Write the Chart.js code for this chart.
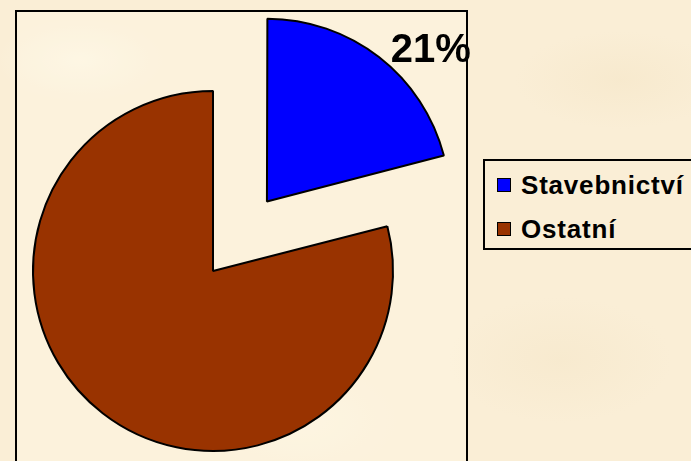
<!DOCTYPE html>
<html>
<head>
<meta charset="utf-8">
<script src="https://cdn.jsdelivr.net/npm/chart.js@4/dist/chart.umd.min.js"></script>
<style>
html,body{margin:0;padding:0;width:691px;height:461px;overflow:hidden;}
body{background:#FAEED6;
  background-image:
    radial-gradient(ellipse 120px 60px at 80px 60px, rgba(255,250,235,0.55), rgba(255,250,235,0) 70%),
    radial-gradient(ellipse 160px 90px at 560px 360px, rgba(245,230,200,0.5), rgba(245,230,200,0) 70%),
    radial-gradient(ellipse 140px 80px at 300px 420px, rgba(255,248,230,0.5), rgba(255,248,230,0) 70%),
    radial-gradient(ellipse 150px 70px at 620px 80px, rgba(244,228,196,0.45), rgba(244,228,196,0) 70%);
  font-family:"Liberation Sans", Arial, sans-serif;}
#wrap{position:relative;width:691px;height:461px;}
#plot{position:absolute;left:15px;top:10px;width:453px;height:480px;border:2px solid #000;box-sizing:border-box;background:rgba(255,248,232,0.35);}
#legend{position:absolute;left:483px;top:159px;width:240px;height:91px;border:2px solid #000;box-sizing:border-box;}
.item{position:absolute;left:12px;height:28px;display:flex;align-items:center;font-weight:bold;font-size:26px;letter-spacing:0.8px;color:#000;white-space:nowrap;}
.sw{width:12px;height:12px;border:1.5px solid #000;margin-right:10px;flex:none;}
canvas{position:absolute;left:0;top:0;}
</style>
</head>
<body>
<div id="wrap">
  <div id="plot"></div>
  <div id="legend"></div>
  <canvas id="c" width="691" height="461"></canvas>
</div>
<script>
// ---- data ----
const categories = ['Stavebnictví', 'Ostatní'];
const values = [21, 79];
const sliceColors = ['#0000FF', '#993300'];
const showLabel = [true, false];

// ---- HTML legend built from the data ----
const legend = document.getElementById('legend');
categories.forEach((name, i) => {
  const it = document.createElement('div');
  it.className = 'item';
  it.style.top = (10 + i * 44) + 'px';
  const sw = document.createElement('span');
  sw.className = 'sw';
  sw.style.background = sliceColors[i];
  const tx = document.createElement('span');
  tx.textContent = name;
  it.appendChild(sw); it.appendChild(tx);
  legend.appendChild(it);
});

// ---- percentage label plugin ----
const pctLabels = {
  id: 'pctLabels',
  afterDatasetsDraw(chart) {
    const meta = chart.getDatasetMeta(0);
    const data = chart.data.datasets[0].data;
    const total = data.reduce((a, b) => a + b, 0);
    const ctx = chart.ctx;
    meta.data.forEach((arc, i) => {
      if (!showLabel[i]) return;
      const p = arc.getProps(['x', 'y', 'startAngle', 'endAngle', 'outerRadius'], true);
      const mid = (p.startAngle + p.endAngle) / 2;
      const off = (arc.options.offset || 0) / 4;
      const vx = p.x + Math.cos(mid) * off;
      const vy = p.y + Math.sin(mid) * off;
      const a = mid + 0.165;
      const d = p.outerRadius * 1.24;
      ctx.save();
      ctx.font = 'bold 40px "Liberation Sans", Arial, sans-serif';
      ctx.fillStyle = '#000';
      ctx.textAlign = 'center';
      ctx.textBaseline = 'middle';
      ctx.fillText(Math.round(data[i] / total * 100) + '%', vx + Math.cos(a) * d, vy + Math.sin(a) * d + 1);
      ctx.restore();
    });
  }
};

new Chart(document.getElementById('c'), {
  type: 'pie',
  data: {
    labels: categories,
    datasets: [{
      data: values,
      backgroundColor: sliceColors,
      borderColor: '#000000',
      borderWidth: 2,
      offset: [352, 0],
      clip: false
    }]
  },
  options: {
    responsive: false,
    devicePixelRatio: 1,
    animation: false,
    events: [],
    radius: 180,
    layout: { padding: { left: 0, right: 265, top: 81, bottom: 0 } },
    plugins: { legend: { display: false }, tooltip: { enabled: false } }
  },
  plugins: [pctLabels]
});
</script>
</body>
</html>
